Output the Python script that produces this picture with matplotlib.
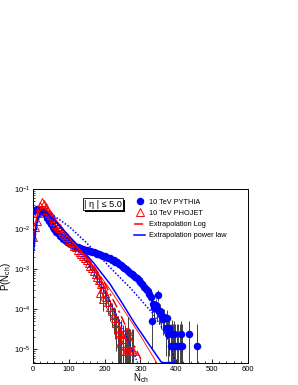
import matplotlib
matplotlib.use("Agg")
import matplotlib.pyplot as plt
from matplotlib.lines import Line2D
from matplotlib.patches import Rectangle
from matplotlib.ticker import MultipleLocator, LogLocator, NullFormatter

plt.rcParams["font.family"] = ["Liberation Sans", "DejaVu Sans"]
plt.rcParams["mathtext.fontset"] = "custom"
plt.rcParams["mathtext.rm"] = "Liberation Sans"
plt.rcParams["mathtext.it"] = "Liberation Sans"

# 10 TeV PYTHIA
pythia_n = [0, 5, 10, 15, 20, 25, 30, 35, 40, 45, 50, 55, 60, 65, 70, 75, 80, 85, 90, 95,
            100, 105, 110, 115, 120, 125, 130, 135, 140, 145, 150, 155, 160, 165, 170, 175,
            180, 185, 190, 195, 200, 205, 210, 215, 220, 225, 230, 235, 240, 245, 250, 255,
            260, 265, 270, 275, 280, 285, 290, 295, 300, 305, 310, 315, 320, 325, 330,
            331, 334, 338, 342, 346, 350, 352, 355, 358, 362, 366, 370, 373, 377, 380, 384,
            387, 390, 393, 397, 401, 405, 409, 413, 417, 436, 457]
pythia_p = [2.9e-2, 3.0e-2, 3.1e-2, 3.0e-2, 3.0e-2, 2.9e-2, 2.7e-2, 2.3e-2, 1.9e-2, 1.58e-2,
            1.35e-2, 1.15e-2, 1.0e-2, 8.7e-3, 7.8e-3, 6.9e-3, 6.3e-3, 5.75e-3, 5.25e-3, 4.9e-3,
            4.57e-3, 4.27e-3, 4.07e-3, 3.8e-3, 3.63e-3, 3.55e-3, 3.39e-3, 3.24e-3, 3.16e-3,
            3.09e-3, 2.95e-3, 2.88e-3, 2.82e-3, 2.75e-3, 2.63e-3, 2.57e-3, 2.45e-3, 2.34e-3,
            2.29e-3, 2.19e-3, 2.09e-3, 2.0e-3, 1.95e-3, 1.86e-3, 1.74e-3, 1.66e-3, 1.55e-3,
            1.48e-3, 1.38e-3, 1.29e-3, 1.17e-3, 1.10e-3, 1.0e-3, 9.1e-4, 8.3e-4, 7.6e-4,
            7.1e-4, 6.5e-4, 5.9e-4, 5.25e-4, 4.7e-4, 4.2e-4, 3.7e-4, 3.2e-4, 2.8e-4, 2.4e-4,
            2.0e-4,
            5.1e-5, 1.4e-4, 1.1e-4, 1.26e-4, 1.0e-4, 2.3e-4, 8.9e-5, 9.1e-5, 7.1e-5, 5.6e-5,
            6.3e-5, 3.5e-5, 6.2e-5, 2.5e-5, 3.5e-5, 1.2e-5, 2.5e-5, 1.2e-5, 2.4e-5, 1.2e-5,
            1.2e-5, 1.2e-5, 1.2e-5, 2.4e-5, 1.2e-5, 2.4e-5, 1.2e-5]
pythia_rel = [0] * 56 + [0.15, 0.15, 0.2, 0.2, 0.2, 0.25, 0.25, 0.25, 0.3, 0.3, 0.3,
                         0.8, 0.4, 0.45, 0.4, 0.45, 0.3, 0.5, 0.5, 0.55, 0.6, 0.6, 0.8, 0.6,
                         1.2, 0.8, 2.5, 1.2, 2.5, 1.2, 2.5, 2.5, 2.5, 2.5, 1.2, 2.5, 1.2, 2.5]

# 10 TeV PHOJET
phojet_n = [1, 5, 10, 15, 20, 25, 30, 35, 40, 45, 50, 55, 60, 65, 70, 75, 80, 85, 90, 95,
            100, 105, 110, 115, 120, 125, 130, 135, 140, 145, 150, 155, 160, 165, 170, 175,
            180, 185, 187, 190, 195, 196, 200, 205, 210, 215, 220, 225, 229, 233, 237, 240,
            243, 246, 250, 252, 256, 260, 263, 266, 268, 271, 275, 280]
phojet_p = [6.5e-3, 1.1e-2, 1.6e-2, 2.6e-2, 3.8e-2, 4.7e-2, 4.2e-2, 3.55e-2, 3.0e-2, 2.5e-2,
            2.2e-2, 1.86e-2, 1.62e-2, 1.38e-2, 1.2e-2, 1.05e-2, 9.1e-3, 7.9e-3, 7.1e-3, 6.3e-3,
            5.5e-3, 4.9e-3, 4.4e-3, 3.9e-3, 3.5e-3, 3.1e-3, 2.75e-3, 2.45e-3, 2.2e-3, 1.9e-3,
            1.66e-3, 1.45e-3, 1.23e-3, 1.05e-3, 8.9e-4, 7.6e-4, 6.3e-4, 5.25e-4, 2.6e-4,
            4.2e-4, 3.3e-4, 1.8e-4, 2.6e-4, 2.0e-4, 1.5e-4, 1.12e-4, 8.9e-5, 7.1e-5, 6.2e-5,
            4.5e-5, 3.5e-5, 2.8e-5, 1.48e-5, 2.5e-5, 1.78e-5, 9.1e-6, 1.78e-5, 9.1e-6, 9.1e-6,
            2.9e-5, 9.1e-6, 9.1e-6, 9.1e-6, 9.1e-6]
phojet_rel = [0] * 30 + [0.15, 0.15, 0.2, 0.2, 0.25, 0.25, 0.3, 0.3, 0.45, 0.35, 0.4, 0.5,
                         0.4, 0.45, 0.5, 0.55, 0.6, 0.65, 0.7, 0.8, 0.9, 1.0, 1.5, 1.2, 1.3,
                         2.5, 1.3, 2.5, 2.5, 1.2, 2.5, 2.5, 2.5, 2.5]

# extrapolation curves
pow_pythia_n = [2, 8, 15, 25, 35, 60, 100, 131, 170, 215, 250, 285, 320, 359, 396]
pow_pythia_p = [3.5e-3, 1.12e-2, 2.0e-2, 2.8e-2, 2.8e-2, 1.66e-2, 6.8e-3, 3.5e-3, 1.41e-3,
                4.3e-4, 1.38e-4, 4.3e-5, 1.5e-5, 4.7e-6, 4.7e-6]
pow_phojet_n = [2, 8, 15, 25, 35, 60, 100, 131, 170, 215, 261, 300, 345]
pow_phojet_p = [5.0e-3, 1.41e-2, 2.5e-2, 3.55e-2, 3.16e-2, 1.78e-2, 6.8e-3, 3.16e-3, 1.12e-3,
                3.16e-4, 7.6e-5, 2.2e-5, 4.7e-6]
log_phojet_n = [2, 8, 15, 25, 35, 80, 131, 170, 200, 243, 285, 306]
log_phojet_p = [5.6e-3, 1.58e-2, 2.8e-2, 3.8e-2, 3.4e-2, 1.0e-2, 3.16e-3, 1.2e-3, 4.5e-4,
                7.9e-5, 1.12e-5, 4.7e-6]
log_pythia_n = [2, 8, 15, 30, 50, 70, 103, 150, 190, 229, 270, 300, 336, 363, 387, 396]
log_pythia_p = [3.16e-3, 1.0e-2, 1.78e-2, 2.7e-2, 2.4e-2, 1.82e-2, 1.12e-2, 4.5e-3, 1.9e-3,
                8.3e-4, 3.55e-4, 1.78e-4, 7.6e-5, 3.16e-5, 1.1e-5, 4.7e-6]
fit_steep_n = [2, 10, 20, 30, 60, 100, 150, 200, 250, 292]
fit_steep_p = [2.5e-3, 1.26e-2, 2.5e-2, 3.16e-2, 1.51e-2, 5.6e-3, 1.51e-3, 2.8e-4, 3.55e-5, 4.7e-6]

legend_labels = ["10 TeV PYTHIA", "10 TeV PHOJET", "Extrapolation Log", "Extrapolation power law"]

blue = "#0000ff"
red = "#ff0000"

fig = plt.figure(figsize=(2.98, 3.85), dpi=100)
ax = fig.add_axes([0.1107, 0.0571, 0.7215, 0.4519])

# data points with error bars
py_err = [p * r for p, r in zip(pythia_p, pythia_rel)]
ph_err = [p * r for p, r in zip(phojet_p, phojet_rel)]
ax.errorbar(pythia_n, pythia_p, yerr=py_err, fmt="none", ecolor="0.25", elinewidth=0.7, zorder=2)
ax.errorbar(phojet_n, phojet_p, yerr=ph_err, fmt="none", ecolor="0.25", elinewidth=0.7, zorder=2)
ax.plot(pythia_n, pythia_p, "o", color=blue, ms=5.4, mew=0, zorder=3)
ax.plot(phojet_n, phojet_p, "^", mfc="none", mec=red, ms=5.2, mew=0.7, zorder=4)

# extrapolation fits
ax.plot(log_pythia_n, log_pythia_p, color=blue, lw=1.1, ls=(0, (1, 1.2)), zorder=5)
ax.plot(fit_steep_n, fit_steep_p, color=blue, lw=1.0, ls=(0, (1, 1.2)), zorder=5)
ax.plot(pow_phojet_n, pow_phojet_p, color=red, lw=0.6, zorder=5)
ax.plot(log_phojet_n, log_phojet_p, color=red, lw=1.1, ls=(0, (6, 2.5, 1.5, 2.5)), zorder=5)
ax.plot(pow_pythia_n, pow_pythia_p, color=blue, lw=1.1, zorder=6)

ax.set_yscale("log")
ax.set_xlim(0, 600)
ax.set_ylim(4.6e-6, 1.0e-1)
ax.xaxis.set_major_locator(MultipleLocator(100))
ax.xaxis.set_minor_locator(MultipleLocator(20))
ax.yaxis.set_major_locator(LogLocator(base=10, numticks=10))
ax.yaxis.set_minor_locator(LogLocator(base=10, subs=range(2, 10), numticks=50))
ax.yaxis.set_minor_formatter(NullFormatter())
ax.tick_params(which="both", direction="in", labelsize=5.5, pad=2)
ax.tick_params(which="major", length=3, width=0.6)
ax.tick_params(which="minor", length=1.6, width=0.5)
for s in ax.spines.values():
    s.set_linewidth(0.7)

ax.set_xlabel("N$_{\\rm ch}$", fontsize=7, labelpad=-1)
ax.set_ylabel("P(N$_{\\rm ch}$)", fontsize=7)
ax.yaxis.set_label_coords(-0.095, 0.5)

# eta box with shadow
ax.add_patch(Rectangle((0.241, 0.868), 0.186, 0.068, transform=ax.transAxes,
                       facecolor="black", edgecolor="none", zorder=7))
ax.add_patch(Rectangle((0.234, 0.879), 0.186, 0.068, transform=ax.transAxes,
                       facecolor="white", edgecolor="black", lw=0.6, zorder=8))
ax.text(0.327, 0.912, "| \u03b7 | \u2264 5.0", transform=ax.transAxes, ha="center", va="center",
        fontsize=6.6, zorder=9)

handles = [
    Line2D([], [], ls="none", marker="o", color=blue, ms=5.4, mew=0),
    Line2D([], [], ls="none", marker="^", mfc="none", mec=red, ms=5.2, mew=0.7),
    Line2D([], [], color=red, lw=1.1, ls=(0, (6, 2.5, 1.5, 2.5))),
    Line2D([], [], color=blue, lw=1.1),
]
ax.legend(handles, legend_labels, loc="upper left", bbox_to_anchor=(0.47, 0.945),
          frameon=False, fontsize=5.3, handlelength=1.5, handletextpad=0.5,
          labelspacing=0.55, borderpad=0, borderaxespad=0)

fig.savefig("out.png", dpi=100)
